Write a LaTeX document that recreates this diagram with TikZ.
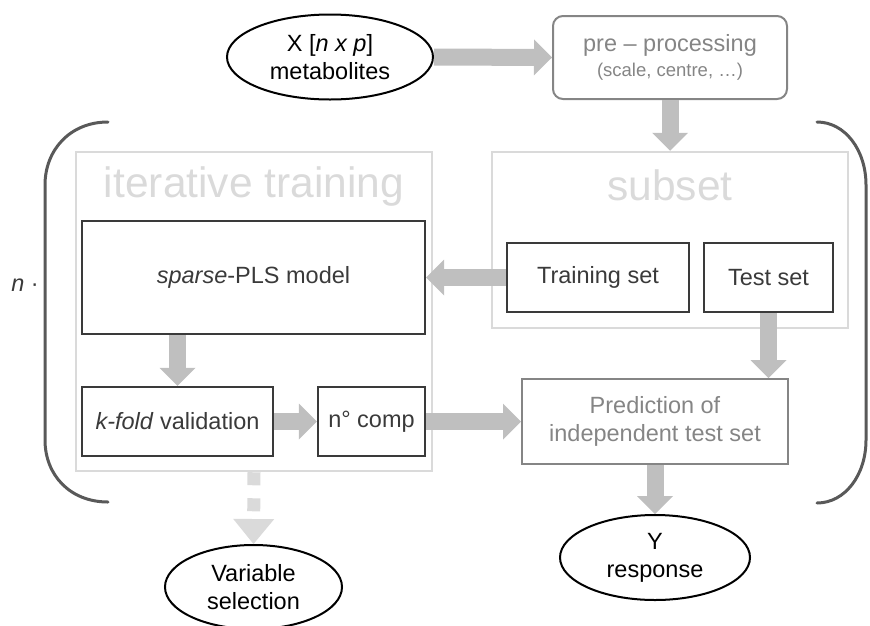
\documentclass[tikz,border=0pt]{standalone}
\usepackage{fontspec}
\setmainfont{Liberation Sans}
\usetikzlibrary{shapes.geometric,arrows.meta}
\definecolor{arrowgray}{HTML}{BFBFBF}
\definecolor{framegray}{HTML}{DADADA}
\definecolor{boxdark}{HTML}{3A3A3A}
\definecolor{midgray}{HTML}{858585}
\definecolor{brack}{HTML}{595959}
\begin{document}
\begin{tikzpicture}[x=1pt,y=-1pt,
  txt/.style={font=\fontsize{23.5}{28}\selectfont},
  oval/.style={ellipse, draw=black, line width=2pt, inner sep=0pt, align=center, txt, text=black},
  darkbox/.style={rectangle, draw=boxdark, line width=2.2pt, inner sep=0pt, align=center, txt, text=boxdark},
  graybox/.style={rectangle, draw=midgray, line width=2pt, inner sep=0pt, align=center, txt, text=midgray},
  frame/.style={rectangle, draw=framegray, line width=2.5pt, inner sep=0pt},
  title/.style={font=\fontsize{42.5}{50}\selectfont, text=framegray, inner sep=0pt},
  flow/.style={draw=arrowgray, line width=17pt, -{Triangle[width=36pt,length=18pt,line width=0pt]}},
  dashflow/.style={draw=framegray, line width=13pt, dash pattern=on 13pt off 13pt, -{Triangle[width=41pt,length=25pt,line width=0pt]}},
  bracket/.style={draw=brack, line width=3pt, line cap=round}
]
\path[use as bounding box] (0,0) rectangle (870,625);

% frames
\node[frame, minimum width=356pt, minimum height=319pt] (iter) at (254,311.5) {};
\node[frame, minimum width=356pt, minimum height=176pt] (subset) at (670,240) {};
\node[title] (itertitle) at (254,187) {iterative training};
\node[title] (subtitle) at (670,185) {subset};

% nodes
\node[oval, minimum width=206pt, minimum height=85pt] (X) at (330,57) {X [\textit{n x p}]\\metabolites};
\node[graybox, rounded corners=10pt, minimum width=234pt, minimum height=83pt] (pre) at (670,57.5)
  {pre -- processing\\[-3pt]{\fontsize{18.5}{21}\selectfont (scale, centre, …)}};
\node[darkbox, minimum width=343pt, minimum height=113pt] (sparse) at (253.5,277.5) {\textit{sparse}-PLS model};
\node[darkbox, minimum width=182pt, minimum height=69pt] (train) at (598,277.5) {Training set};
\node[darkbox, minimum width=129pt, minimum height=69pt] (test) at (768.5,277.5) {Test set};
\node[darkbox, minimum width=191pt, minimum height=69pt] (kfold) at (177.5,421.5) {\textit{k-fold} validation};
\node[darkbox, minimum width=107pt, minimum height=69pt] (ncomp) at (371.5,421.5) {n° comp};
\node[graybox, minimum width=266pt, minimum height=85pt] (pred) at (655,421.5) {Prediction of\\independent test set};
\node[oval, minimum width=190pt, minimum height=85pt] (Y) at (655,557.5) {Y\\response};
\node[oval, minimum width=177pt, minimum height=84pt] (var) at (253.5,587) {Variable\\selection};
\node[txt, text=boxdark, inner sep=0pt] (nlabel) at (25,285) {\textit{n} ·};

% arrows
\draw[flow] (X.east) -- (pre.west);
\draw[flow] (pre.south) -- (subset.north);
\draw[flow] (train.west) -- (sparse.east);
\draw[flow] (kfold.north |- sparse.south) -- (kfold.north);
\draw[flow] (kfold.east) -- (ncomp.west);
\draw[flow] (ncomp.east) -- (pred.west);
\draw[flow] (test.south) -- (test.south |- pred.north);
\draw[flow] (pred.south) -- (Y.north);
\draw[dashflow] (iter.south) -- (var.north);

% brackets
\draw[bracket] (108,122) .. controls (70,122) and (45,150) .. (45,185) -- (45,440)
  .. controls (45,475) and (70,502) .. (108,502);
\draw[bracket] (817,122) .. controls (845,122) and (866,150) .. (866,185) -- (866,440)
  .. controls (866,475) and (845,503) .. (817,503);
\end{tikzpicture}
\end{document}
